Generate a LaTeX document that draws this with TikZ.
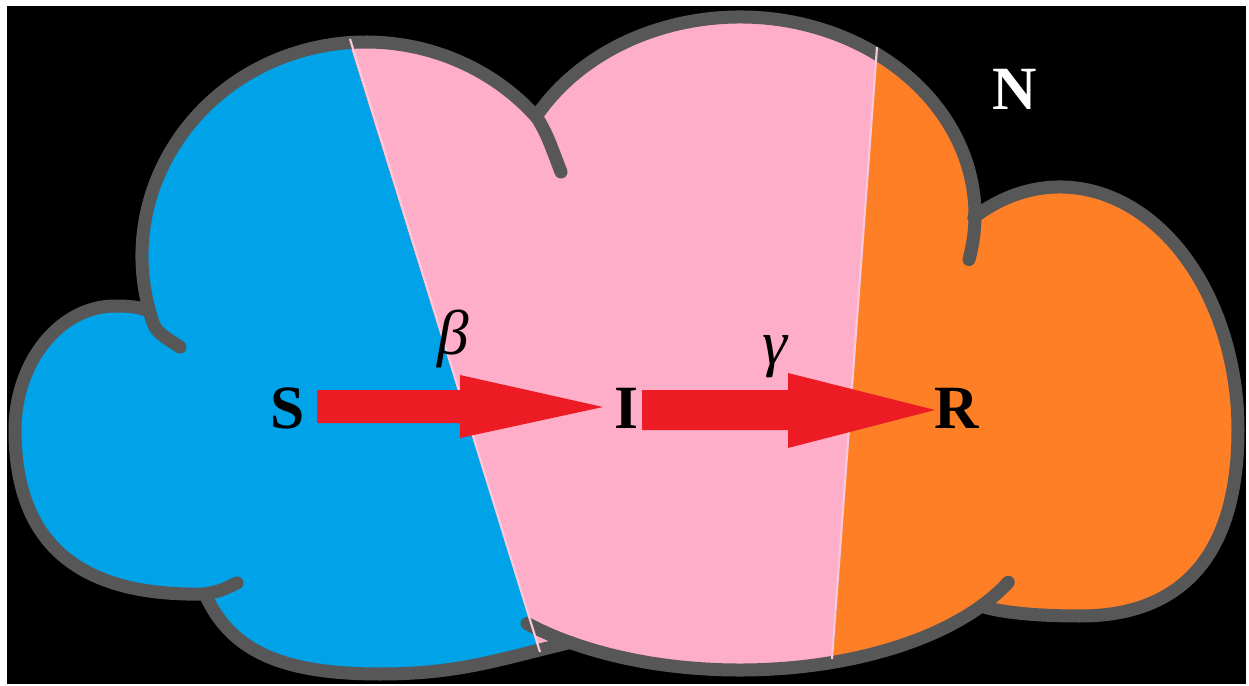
\documentclass[tikz,border=0pt]{standalone}
\usepackage{fontspec}
\setmainfont{Liberation Serif}
\definecolor{skyblue}{HTML}{00A2E8}
\definecolor{pinkish}{HTML}{FFAEC9}
\definecolor{orangeish}{HTML}{FF7F27}
\definecolor{redarrow}{HTML}{ED1C24}
\definecolor{outlinegray}{HTML}{575757}
\definecolor{seam}{HTML}{F8CADB}
\tikzset{
  cloudline/.style={draw=outlinegray, line width=7.4pt, line join=round, line cap=round},
  seamline/.style={draw=seam, line width=1.2pt},
  blockarrow/.style={fill=redarrow},
  lettr/.style={inner sep=0pt, anchor=base, font=\fontsize{35}{40}\selectfont\bfseries},
  greek/.style={inner sep=0pt, anchor=base, font=\fontsize{36}{40}\selectfont\itshape},
}
\begin{document}
\begin{tikzpicture}[x=0.02cm, y=-0.02cm]
\useasboundingbox (0,0) rectangle (1249,686);
\fill[white] (0,0) rectangle (1249,686);
\fill[black] (7,6) rectangle (1246,684);

% cloud outline (lobes)
\path[save path=\cloud]
  ([shift={(366,256)}]165:224 and 214) arc[start angle=165, end angle=320, x radius=224, y radius=214]
  -- ([shift={(740,215)}]210:235 and 198) arc[start angle=210, end angle=360, x radius=235, y radius=198]
  -- ([shift={(1060,430)}]241:178 and 243) arc[start angle=241, end angle=360, x radius=178, y radius=243]
  .. controls (1238,554) and (1183,616) .. (1080,616)
  .. controls (1040,616) and (1005,613) .. (984,607)
  -- ([shift={(740,518)}]35:296 and 152) arc[start angle=35, end angle=125, x radius=296, y radius=152]
  .. controls (500,659) and (460,674) .. (380,674)
  .. controls (280,674) and (230,650) .. (205,594)
  .. controls (75,597) and (15,540) .. (15,430)
  .. controls (15,362) and (60,306) .. (115,306)
  .. controls (130,306) and (140,307) .. (149.6,311.4)
  -- cycle;

% coloured regions
\begin{scope}
  \clip[use path=\cloud];
  \fill[skyblue] (0,0) -- (336,0) -- (550,686) -- (0,686) -- cycle;
  \fill[pinkish] (336,0) -- (880,0) -- (831,686) -- (550,686) -- cycle;
  \fill[orangeish] (880,0) -- (1249,0) -- (1249,686) -- (831,686) -- cycle;
\end{scope}

% outline and hooks
\draw[cloudline, use path=\cloud];
\coordinate (h1) at (149.6,311.4);
\coordinate (h2) at (205,594);
\coordinate (h6) at (537.6,118.4);
\draw[cloudline] (h1) .. controls (155,331) .. (180,347);
\draw[cloudline] (h2) .. controls (220,591) .. (237,583);
\draw[cloudline] ([shift={(740,518)}]125:296 and 152) arc[start angle=125, end angle=136, x radius=296, y radius=152];
\draw[cloudline] ([shift={(740,518)}]35:296 and 152) arc[start angle=35, end angle=25, x radius=296, y radius=152];
\draw[cloudline] ([shift={(740,215)}]0:235 and 198) arc[start angle=0, end angle=13, x radius=235, y radius=198];
\draw[cloudline] (h6) .. controls (547,135) .. (561,172);

% seams
\draw[seamline] (350,39) -- (540,652);
\draw[seamline] (877,47) -- (832,659);

% block arrows
\fill[blockarrow] (317,390) -- (460,390) -- (460,375) -- (603,407) -- (460,438) -- (460,423) -- (317,423) -- cycle;
\fill[blockarrow] (642,390) -- (788,390) -- (788,373) -- (935,410) -- (788,448) -- (788,430) -- (642,430) -- cycle;

% labels
\node[lettr] (S) at (288,428) {S};
\node[lettr] (I) at (626,428) {I};
\node[lettr] (R) at (957,428) {R};
\node[lettr, text=white] (N) at (1015,110) {N};
\node[greek] (beta) at (453,355) {β};
\node[greek] (gamma) at (775,364) {γ};
\end{tikzpicture}
\end{document}
